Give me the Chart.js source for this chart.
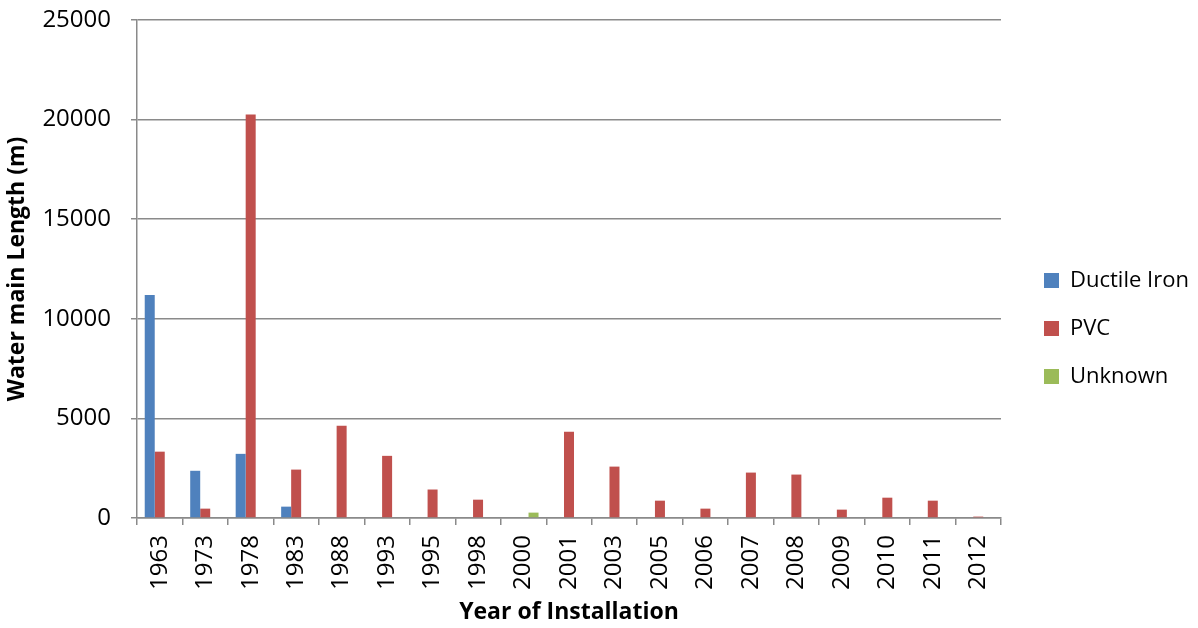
<!DOCTYPE html>
<html>
<head>
<meta charset="utf-8">
<script src="https://cdn.jsdelivr.net/npm/chart.js@4/dist/chart.umd.min.js"></script>
<style>
html,body{margin:0;padding:0;background:#fff;}
#wrap{width:1198px;height:628px;position:relative;}
</style>
</head>
<body>
<div id="wrap"><canvas id="c" width="1198" height="628"></canvas></div>
<script>
const years = ['1963','1973','1978','1983','1988','1993','1995','1998','2000','2001','2003','2005','2006','2007','2008','2009','2010','2011','2012'];
const ductileIron = [11200, 2370, 3220, 570, 0, 0, 0, 0, 0, 0, 0, 0, 0, 0, 0, 0, 0, 0, 0];
const pvc = [3330, 470, 20250, 2430, 4630, 3120, 1430, 920, 0, 4330, 2580, 870, 470, 2280, 2180, 420, 1020, 870, 70];
const unknown = [0, 0, 0, 0, 0, 0, 0, 0, 270, 0, 0, 0, 0, 0, 0, 0, 0, 0, 0];
const yTicks = [0, 5000, 10000, 15000, 20000, 25000];

const FONT = 'Open Sans';
const gridColor = '#8a8a8a';

const chart = new Chart(document.getElementById('c'), {
  type: 'bar',
  data: {
    labels: years,
    datasets: [
      {label: 'Ductile Iron', data: ductileIron, backgroundColor: '#4F81BD'},
      {label: 'PVC', data: pvc, backgroundColor: '#C0504D'},
      {label: 'Unknown', data: unknown, backgroundColor: '#9BBB59'}
    ]
  },
  options: {
    responsive: false,
    animation: false,
    devicePixelRatio: 1,
    categoryPercentage: 0.66,
    barPercentage: 1.0,
    layout: {padding: {top: 20, right: 6, bottom: 0, left: 0}},
    plugins: {
      tooltip: {enabled: false},
      legend: {
        position: 'right',
        labels: {
          boxWidth: 15, boxHeight: 15, padding: 26,
          color: '#000',
          font: {family: FONT, size: 22}
        }
      }
    },
    scales: {
      x: {
        grid: {display: true, offset: true, drawOnChartArea: false, drawTicks: true, tickLength: 7, color: gridColor, lineWidth: 1.5},
        border: {display: true, color: gridColor, width: 1.5},
        ticks: {color: '#000', font: {family: FONT, size: 24}, minRotation: 90, maxRotation: 90, padding: 10, autoSkip: false},
        title: {display: true, text: 'Year of Installation', color: '#000', font: {family: FONT, size: 23, weight: 'bold'}, padding: {top: 0, bottom: 2}},
        afterFit: s => { s.height = 110; }
      },
      y: {
        min: 0, max: 25000,
        afterBuildTicks: s => { s.ticks = yTicks.map(v => ({value: v})); },
        grid: {color: gridColor, lineWidth: 1.5, tickLength: 6},
        border: {display: true, color: gridColor, width: 1.5},
        ticks: {color: '#000', font: {family: FONT, size: 24}, padding: 20, callback: v => String(v)},
        title: {display: true, text: 'Water main Length (m)', color: '#000', font: {family: FONT, size: 23, weight: 'bold'}, padding: {top: 4, bottom: 0}},
        afterFit: s => { s.width = 137; s.paddingTop = 0; s.paddingBottom = 0; }
      }
    }
  }
});

// fine-tune legend box placement (width and item offset) to match the reference layout
const lg = chart.legend;
const proto = Object.getPrototypeOf(lg);
lg.fit = function () { proto.fit.call(this); this.width = 191; };
lg._draw = function () {
  const l = this.left, t = this.top, b = this.bottom;
  this.left = l + 17; this.top = t + 4.5; this.bottom = b + 4.5;
  proto._draw.call(this);
  this.left = l; this.top = t; this.bottom = b;
};
chart.update();
</script>
</body>
</html>
